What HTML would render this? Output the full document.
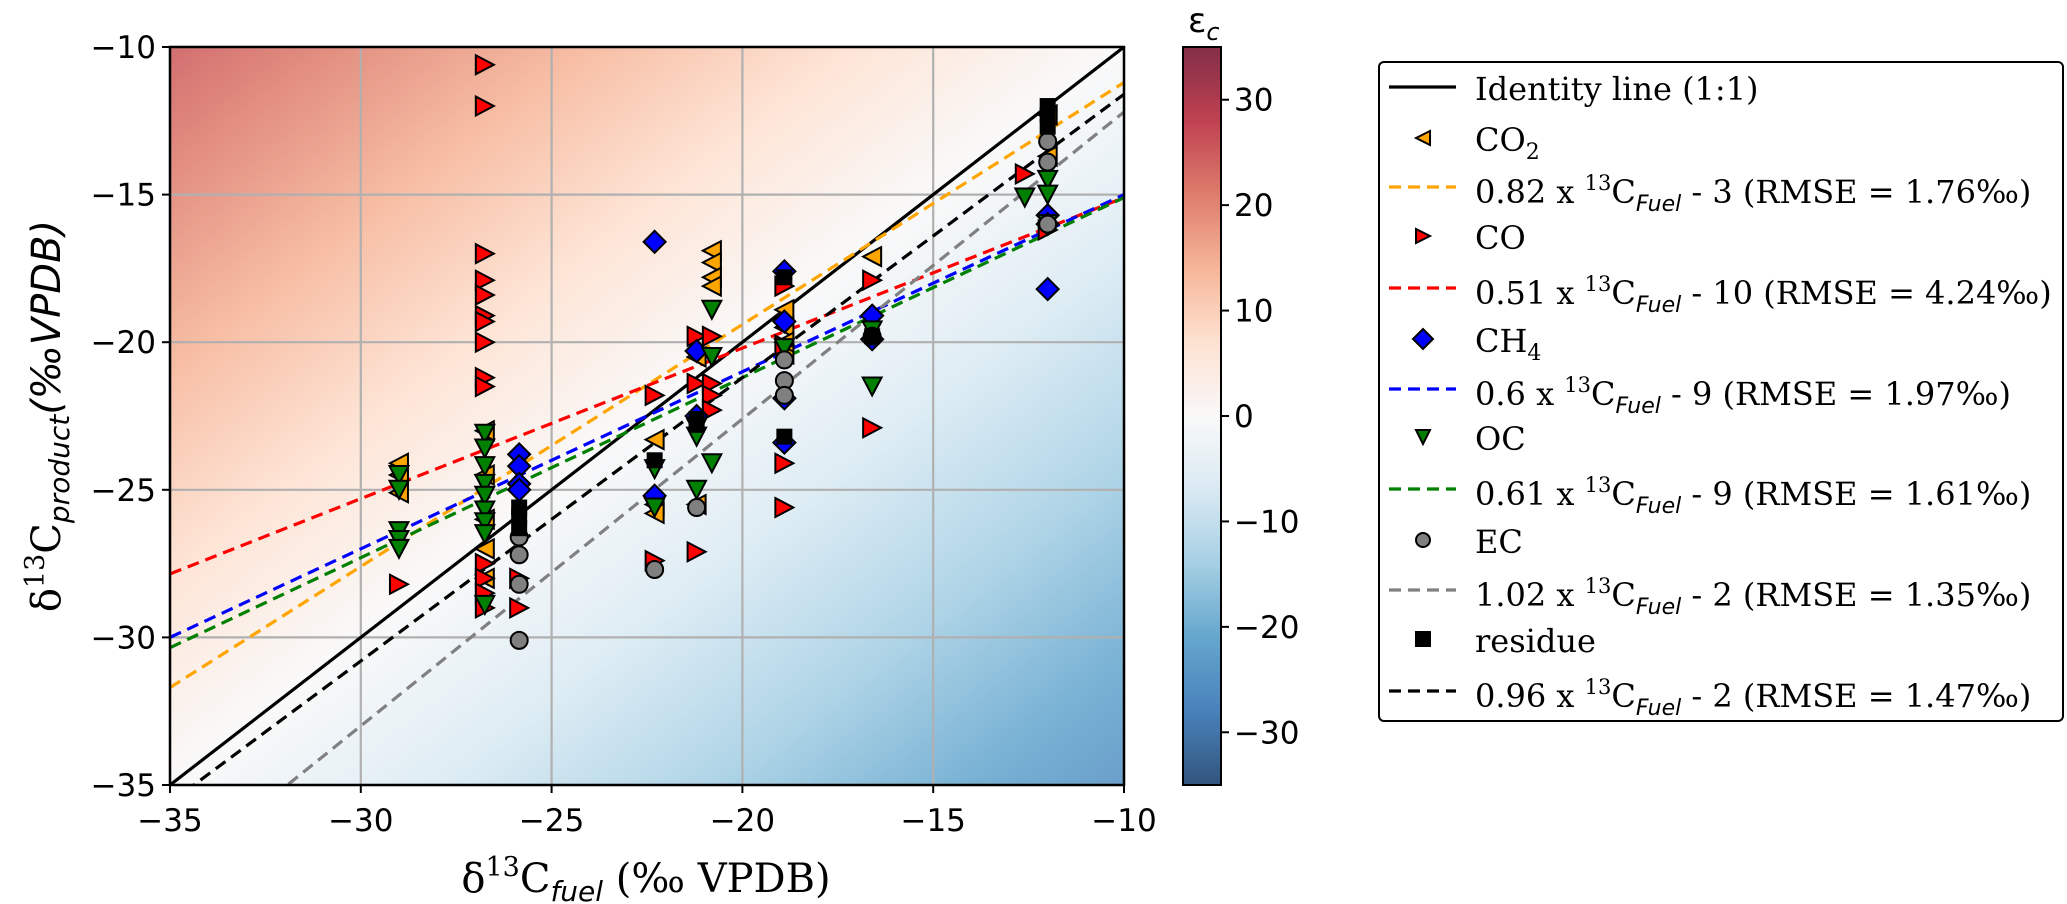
<!DOCTYPE html>
<html><head><meta charset="utf-8"><style>
body{margin:0;background:#fff;width:2067px;height:904px;overflow:hidden;position:relative}
svg{position:absolute;left:0;top:0}
.leg{position:absolute;left:1378px;top:61px;width:686px;height:661px;border:2px solid #000;border-radius:6px;box-sizing:border-box;background:#fff}
.row{position:absolute;left:95px;font-family:"DejaVu Serif","Liberation Serif",serif;font-size:32px;white-space:nowrap;line-height:1}
.row sup{font-size:21px;vertical-align:13px}
.row sub{font-size:22px;vertical-align:-8px}
.row .f{font-family:"DejaVu Sans",sans-serif;font-style:italic}
</style></head><body>
<svg id="chart" width="2067" height="904"></svg>
<div class="leg">
<div class="row" style="top:10px">Identity line (1:1)</div>
<div class="row" style="top:61px">CO<sub>2</sub></div>
<div class="row" style="top:110px">0.82 x <sup>13</sup>C<sub class="f">Fuel</sub> - 3 (RMSE = 1.76‰)</div>
<div class="row" style="top:159px">CO</div>
<div class="row" style="top:211px">0.51 x <sup>13</sup>C<sub class="f">Fuel</sub> - 10 (RMSE = 4.24‰)</div>
<div class="row" style="top:262px">CH<sub>4</sub></div>
<div class="row" style="top:312px">0.6 x <sup>13</sup>C<sub class="f">Fuel</sub> - 9 (RMSE = 1.97‰)</div>
<div class="row" style="top:360px">OC</div>
<div class="row" style="top:412px">0.61 x <sup>13</sup>C<sub class="f">Fuel</sub> - 9 (RMSE = 1.61‰)</div>
<div class="row" style="top:463px">EC</div>
<div class="row" style="top:513px">1.02 x <sup>13</sup>C<sub class="f">Fuel</sub> - 2 (RMSE = 1.35‰)</div>
<div class="row" style="top:562px">residue</div>
<div class="row" style="top:614px">0.96 x <sup>13</sup>C<sub class="f">Fuel</sub> - 2 (RMSE = 1.47‰)</div>
</div>
<script>
const xTicks=[-35,-30,-25,-20,-15,-10];
const yTicks=[-35,-30,-25,-20,-15,-10];
const cbTicks=[-30,-20,-10,0,10,20,30];
const co2X=[-29,-29,-29,-26.75,-26.75,-26.75,-26.75,-26.75,-22.3,-22.3,-22.3,-21.2,-21.2,-20.8,-20.8,-20.8,-20.8,-18.9,-18.9,-18.9,-18.9,-16.6,-12,-12];
const co2Y=[-24.1,-24.5,-25.1,-23.0,-24.5,-26,-27,-28,-23.3,-25.5,-25.8,-25.5,-20.5,-16.9,-17.3,-17.8,-18.1,-18.9,-19.5,-20.4,-20.0,-17.1,-13.7,-12.3];
const coX=[-26.75,-26.75,-26.75,-26.75,-26.75,-26.75,-26.75,-26.75,-26.75,-26.75,-26.75,-26.75,-26.75,-26.75,-29,-25.85,-25.85,-22.3,-22.3,-21.2,-21.2,-21.2,-20.8,-20.8,-20.8,-20.8,-18.9,-18.9,-18.9,-18.9,-16.6,-16.6,-12.6,-12];
const coY=[-10.6,-12,-17,-17.9,-18.4,-19.1,-19.3,-20,-21.2,-21.5,-27.5,-28,-28.5,-29,-28.2,-28.0,-29,-21.8,-27.4,-19.8,-21.4,-27.1,-19.8,-21.4,-21.8,-22.3,-18.1,-20.1,-24.1,-25.6,-17.9,-22.9,-14.3,-16.2];
const ch4X=[-25.85,-25.85,-25.85,-25.85,-22.3,-22.3,-21.2,-21.2,-18.9,-18.9,-18.9,-18.9,-16.6,-16.6,-12,-12,-12];
const ch4Y=[-23.8,-24.2,-24.8,-25.0,-16.6,-25.2,-20.3,-22.5,-17.6,-19.3,-23.4,-21.9,-19.1,-19.9,-15.7,-16.0,-18.2];
const ocX=[-29,-29,-29,-29,-29,-26.75,-26.75,-26.75,-26.75,-26.75,-26.75,-26.75,-26.75,-26.75,-22.3,-22.3,-21.2,-21.2,-21.2,-20.8,-20.8,-20.8,-18.9,-16.6,-16.6,-12.6,-12,-12,-12];
const ocY=[-24.5,-25,-26.4,-26.7,-27,-23.1,-23.6,-24.2,-24.8,-25.2,-25.7,-26.1,-26.5,-28.9,-24.3,-25.6,-22.9,-23.2,-25,-18.9,-20.5,-24.1,-20.2,-21.5,-19.6,-15.1,-14.5,-15.0,-16.0];
const ecX=[-25.85,-25.85,-25.85,-25.85,-22.3,-21.2,-18.9,-18.9,-18.9,-16.6,-12,-12,-12];
const ecY=[-26.6,-27.2,-28.2,-30.1,-27.7,-25.6,-20.6,-21.3,-21.8,-19.8,-13.2,-13.9,-16.0];
const resX=[-25.85,-25.85,-25.85,-22.3,-21.2,-21.2,-18.9,-18.9,-16.6,-12,-12,-12];
const resY=[-25.6,-25.9,-26.3,-24.0,-22.6,-22.8,-17.8,-23.2,-19.8,-12.0,-12.3,-12.7];
const fitSlopes=[0.82,0.51,0.6,0.61,1.04,0.96];
const fitIntercepts=[-3,-10,-9,-9,-1.8,-2];
const fitColors=['#ffa500','#ff0000','#0000ff','#008000','#808080','#000000'];
const fitNames=['fit-co2','fit-co','fit-ch4','fit-oc','fit-ec','fit-residue'];

const NS='http://www.w3.org/2000/svg';
const svg=document.getElementById('chart');
const L=170,R=1124,T=47,B=785,XMIN=-35,XMAX=-10,YMIN=-35,YMAX=-10;
const ux=(R-L)/(XMAX-XMIN),uy=(B-T)/(YMAX-YMIN);
const sx=v=>L+(v-XMIN)*ux, sy=v=>B-(v-YMIN)*uy;
function mk(tag,attrs,parent){const e=document.createElementNS(NS,tag);for(const k in attrs)e.setAttribute(k,attrs[k]);(parent||svg).appendChild(e);return e;}
const cmap=['#053061','#2166ac','#4393c3','#92c5de','#d1e5f0','#f7f7f7','#fddbc7','#f4a582','#d6604d','#b2182b','#67001f'];
const defs=mk('defs',{});
const gx=-1/ux, gy=-1/uy, g2=gx*gx+gy*gy;
const cx=sx(-22.5), cy=sy(-22.5);
function pt(e){return [cx+e*gx/g2, cy+e*gy/g2];}
const p1=pt(-35),p2=pt(35);
const lg=mk('linearGradient',{id:'bg',gradientUnits:'userSpaceOnUse',x1:p1[0],y1:p1[1],x2:p2[0],y2:p2[1]},defs);
cmap.forEach((c,i)=>mk('stop',{offset:i/10,'stop-color':c},lg));
const cg=mk('linearGradient',{id:'cb',x1:0,y1:1,x2:0,y2:0},defs);
cmap.forEach((c,i)=>mk('stop',{offset:i/10,'stop-color':c},cg));
const cp=mk('clipPath',{id:'clip'},defs);
mk('rect',{x:L,y:T,width:R-L,height:B-T},cp);
const bg=mk('rect',{x:L,y:T,width:R-L,height:B-T,fill:'url(#bg)','fill-opacity':0.72});


xTicks.forEach(v=>{const g=mk('line',{x1:sx(v),x2:sx(v),y1:T,y2:B,stroke:'#b0b0b0','stroke-width':2.2});});
yTicks.forEach(v=>{const g=mk('line',{x1:L,x2:R,y1:sy(v),y2:sy(v),stroke:'#b0b0b0','stroke-width':2.2});});
const cl=mk('g',{'clip-path':'url(#clip)'});
const id=mk('line',{x1:sx(-35),y1:sy(-35),x2:sx(-10),y2:sy(-10),stroke:'#000','stroke-width':3.2},cl);


fitSlopes.forEach((m,i)=>{const b=fitIntercepts[i];const l=mk('line',{x1:sx(-35),y1:sy(m*-35+b),x2:sx(-10),y2:sy(m*-10+b),stroke:fitColors[i],'stroke-width':3.2,'stroke-dasharray':'12,7'},cl);});
function tri(x,y,dir,fill,name){const s=9;let p;
 if(dir==='l')p=[[x-s,y],[x+s,y-s*1.05],[x+s,y+s*1.05]];
 else if(dir==='r')p=[[x+s,y],[x-s,y-s*1.05],[x-s,y+s*1.05]];
 else p=[[x,y+s],[x-s*1.05,y-s],[x+s*1.05,y-s]];
 const e=mk('polygon',{points:p.map(q=>q.join(',')).join(' '),fill:fill,stroke:'#000','stroke-width':2});
 
 }
co2X.forEach((v,i)=>tri(sx(v),sy(co2Y[i]),'l','#ffa500','co2-point'));
coX.forEach((v,i)=>tri(sx(v),sy(coY[i]),'r','#ff0000','co-point'));
ch4X.forEach((v,i)=>{const x=sx(v),y=sy(ch4Y[i]),s=11;const e=mk('polygon',{points:`${x},${y-s} ${x+s},${y} ${x},${y+s} ${x-s},${y}`,fill:'#0000ff',stroke:'#000','stroke-width':2});});
ocX.forEach((v,i)=>tri(sx(v),sy(ocY[i]),'d','#008000','oc-point'));
ecX.forEach((v,i)=>{const e=mk('circle',{cx:sx(v),cy:sy(ecY[i]),r:8.5,fill:'#808080',stroke:'#000','stroke-width':2});});
resX.forEach((v,i)=>{const e=mk('rect',{x:sx(v)-8,y:sy(resY[i])-8,width:16,height:16,fill:'#000'});});
const fr=mk('rect',{x:L,y:T,width:R-L,height:B-T,fill:'none',stroke:'#000','stroke-width':2.5});


const tf='font-family:"DejaVu Sans","Liberation Sans",sans-serif;font-size:31px';
xTicks.forEach(v=>{mk('line',{x1:sx(v),x2:sx(v),y1:B,y2:B+8,stroke:'#000','stroke-width':2});const t=mk('text',{x:sx(v),y:B+46,'text-anchor':'middle',style:tf});t.textContent=String(v).replace('-','\u2212');});
yTicks.forEach(v=>{mk('line',{x1:L-8,x2:L,y1:sy(v),y2:sy(v),stroke:'#000','stroke-width':2});const t=mk('text',{x:L-14,y:sy(v)+11,'text-anchor':'end',style:tf});t.textContent=String(v).replace('-','\u2212');});
const CL=1183,CR=1221,cbs=v=>B-(v+35)*(B-T)/70;
const cb=mk('rect',{x:CL,y:T,width:CR-CL,height:B-T,fill:'url(#cb)','fill-opacity':0.82});


mk('rect',{x:CL,y:T,width:CR-CL,height:B-T,fill:'none',stroke:'#000','stroke-width':2});
cbTicks.forEach(v=>{mk('line',{x1:CR,x2:CR+8,y1:cbs(v),y2:cbs(v),stroke:'#000','stroke-width':2});const t=mk('text',{x:CR+13,y:cbs(v)+11,style:tf});t.textContent=String(v).replace('-','\u2212');});
const et=mk('text',{x:1188,y:32,style:'font-family:"DejaVu Sans",sans-serif;font-size:34px'});
et.innerHTML='ε<tspan font-size="24" dy="8" font-style="italic">c</tspan>';


const xl=mk('text',{x:646,y:892,'text-anchor':'middle',style:'font-family:"DejaVu Serif","Liberation Serif",serif;font-size:40px'});
xl.innerHTML='δ<tspan font-size="27" dy="-16">13</tspan><tspan dy="16">C</tspan><tspan font-size="28" dy="9" font-style="italic" font-family="DejaVu Sans">fuel</tspan><tspan dy="-9"> (‰ VPDB)</tspan>';


const yl=mk('text',{x:0,y:0,'text-anchor':'middle',transform:'translate(60,416) rotate(-90)',style:'font-family:"DejaVu Serif","Liberation Serif",serif;font-size:40px'});
yl.innerHTML='δ<tspan font-size="27" dy="-16">13</tspan><tspan dy="16">C</tspan><tspan font-size="28" dy="9" font-style="italic" font-family="DejaVu Sans">product</tspan><tspan dy="-9" font-style="italic" font-family="DejaVu Sans">(‰VPDB)</tspan>';


const LX=1389,LX2=1456,MX=1423;
const rowsY=[87,138,187,236,288,339,389,437,489,540,590,639,691];
mk('line',{x1:LX,x2:LX2,y1:rowsY[0],y2:rowsY[0],stroke:'#000','stroke-width':3.2});
[2,4,6,8,10,12].forEach((r,i)=>mk('line',{x1:LX,x2:LX2,y1:rowsY[r],y2:rowsY[r],stroke:fitColors[i],'stroke-width':3.2,'stroke-dasharray':'12,7'}));
(function(){const s=7,y1=rowsY[1],y3=rowsY[3],y5=rowsY[5],y7=rowsY[7],y9=rowsY[9],y11=rowsY[11];
const a=[mk('polygon',{points:`${MX-s},${y1} ${MX+s},${y1-s} ${MX+s},${y1+s}`,fill:'#ffa500',stroke:'#000','stroke-width':2}),
mk('polygon',{points:`${MX+s},${y3} ${MX-s},${y3-s} ${MX-s},${y3+s}`,fill:'#ff0000',stroke:'#000','stroke-width':2}),
mk('polygon',{points:`${MX},${y5-10} ${MX+10},${y5} ${MX},${y5+10} ${MX-10},${y5}`,fill:'#0000ff',stroke:'#000','stroke-width':2}),
mk('polygon',{points:`${MX},${y7+s} ${MX-s},${y7-s} ${MX+s},${y7-s}`,fill:'#008000',stroke:'#000','stroke-width':2}),
mk('circle',{cx:MX,cy:y9,r:7,fill:'#808080',stroke:'#000','stroke-width':2}),
mk('rect',{x:MX-8,y:y11-8,width:16,height:16,fill:'#000'})];
a.forEach(e=>{});})();
svg.style.zIndex=1;
</script>
</body></html>
